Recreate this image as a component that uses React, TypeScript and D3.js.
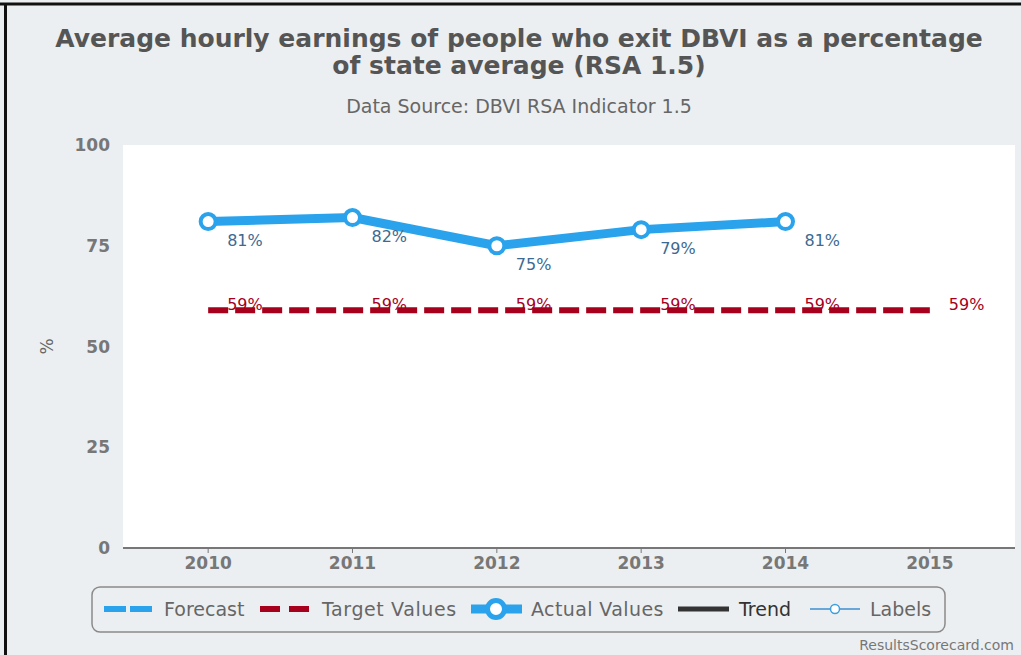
import React from "react";
import * as d3 from "d3";

const years = ["2010", "2011", "2012", "2013", "2014", "2015"];
const actualYears = ["2010", "2011", "2012", "2013", "2014"];
const actualValues = [81, 82, 75, 79, 81];
const targetYears = ["2010", "2011", "2012", "2013", "2014", "2015"];
const targetValues = [59, 59, 59, 59, 59, 59];
const yTicks = [0, 25, 50, 75, 100];

const W = 1021;
const H = 655;
const plotLeft = 123;
const plotRight = 1015;
const plotTop = 145;
const plotBottom = 548;

const BLUE = "#2aa3ec";
const RED = "#a6001d";
const LABEL_BLUE = "#3d6a91";
const FONT = "'DejaVu Sans', sans-serif";

export default function App() {
  const x = d3.scalePoint<string>().domain(years).range([plotLeft, plotRight]).padding(0.59);
  const y = d3.scaleLinear().domain([0, 100]).range([plotBottom, plotTop]);

  const actualPts: [number, number][] = actualYears.map((yr, i) => [x(yr)!, y(actualValues[i])]);
  const targetPts: [number, number][] = targetYears.map((yr, i) => [x(yr)!, y(targetValues[i])]);
  const line = d3.line();

  return (
    <svg
      width={W}
      height={H}
      style={{ position: "absolute", left: 0, top: 0, display: "block" }}
      fontFamily={FONT}
    >
      <rect x={0} y={0} width={W} height={H} fill="#eceff1" />
      {/* frame */}
      <line x1={0} y1={4} x2={W} y2={4} stroke="#111" strokeWidth={3} />
      <line x1={5.5} y1={3} x2={5.5} y2={H} stroke="#111" strokeWidth={3} />

      {/* title */}
      <text x={519} y={47} textAnchor="middle" fontSize={25} fontWeight="bold" fill="#555">
        Average hourly earnings of people who exit DBVI as a percentage
      </text>
      <text x={519} y={74} textAnchor="middle" fontSize={25} fontWeight="bold" fill="#555">
        of state average (RSA 1.5)
      </text>
      <text x={519} y={113} textAnchor="middle" fontSize={19} fill="#666">
        Data Source: DBVI RSA Indicator 1.5
      </text>

      {/* plot area */}
      <rect x={plotLeft} y={plotTop} width={plotRight - plotLeft} height={plotBottom - plotTop} fill="#fff" />

      {/* y ticks */}
      {yTicks.map((t) => (
        <text key={t} x={110} y={y(t) + 6} textAnchor="end" fontSize={17} fontWeight="bold" fill="#777">
          {t}
        </text>
      ))}
      <text
        transform={`translate(53,${y(50)}) rotate(-90)`}
        textAnchor="middle"
        fontSize={17}
        fill="#666"
      >
        %
      </text>

      {/* x axis */}
      <line x1={plotLeft} y1={plotBottom} x2={plotRight} y2={plotBottom} stroke="#777" strokeWidth={2} />
      {years.map((yr) => (
        <g key={yr}>
          <line x1={x(yr)!} y1={plotBottom} x2={x(yr)!} y2={plotBottom + 5} stroke="#777" strokeWidth={1} />
          <text x={x(yr)!} y={plotBottom + 21} textAnchor="middle" fontSize={17} fontWeight="bold" fill="#777">
            {yr}
          </text>
        </g>
      ))}

      {/* target line */}
      <path d={line(targetPts)!} fill="none" stroke={RED} strokeWidth={6} strokeDasharray="20 7" />
      {targetPts.map((p, i) => (
        <text key={"t" + i} x={p[0] + 19} y={p[1] + 0} fontSize={16} fill={RED}>
          {targetValues[i]}%
        </text>
      ))}

      {/* actual line */}
      <path d={line(actualPts)!} fill="none" stroke={BLUE} strokeWidth={9} strokeLinejoin="round" />
      {actualPts.map((p, i) => (
        <circle key={"c" + i} cx={p[0]} cy={p[1]} r={7.5} fill="#fff" stroke={BLUE} strokeWidth={4} />
      ))}
      {actualPts.map((p, i) => (
        <text key={"a" + i} x={p[0] + 19} y={p[1] + 24} fontSize={16} fill={LABEL_BLUE}>
          {actualValues[i]}%
        </text>
      ))}

      {/* legend */}
      <rect x={92} y={587} width={853} height={45} rx={8} ry={8} fill="#eceff1" stroke="#8a8a8a" strokeWidth={1.5} />
      <g fontSize={19} fill="#666">
        <line x1={104} y1={609} x2={126} y2={609} stroke={BLUE} strokeWidth={6} />
        <line x1={130} y1={609} x2={152} y2={609} stroke={BLUE} strokeWidth={6} />
        <text x={164} y={616}>Forecast</text>

        <line x1={260} y1={609} x2={280} y2={609} stroke={RED} strokeWidth={6} />
        <line x1={289} y1={609} x2={309} y2={609} stroke={RED} strokeWidth={6} />
        <text x={322} y={616} letterSpacing={0.6}>Target Values</text>

        <line x1={471} y1={609} x2={522} y2={609} stroke={BLUE} strokeWidth={9} />
        <circle cx={496} cy={609} r={8.5} fill="#fff" stroke={BLUE} strokeWidth={5} />
        <text x={531} y={616} letterSpacing={0.4}>Actual Values</text>

        <line x1={678} y1={609} x2={729} y2={609} stroke="#333" strokeWidth={5} />
        <text x={739} y={616} fill="#333">Trend</text>

        <line x1={810} y1={609} x2={860} y2={609} stroke="#3d8fcf" strokeWidth={1.5} />
        <circle cx={835} cy={609} r={4.5} fill="#fff" stroke="#3d9fe0" strokeWidth={1.5} />
        <text x={870} y={616}>Labels</text>
      </g>

      <text x={1014} y={650} textAnchor="end" fontSize={14} fill="#777">
        ResultsScorecard.com
      </text>
    </svg>
  );
}
